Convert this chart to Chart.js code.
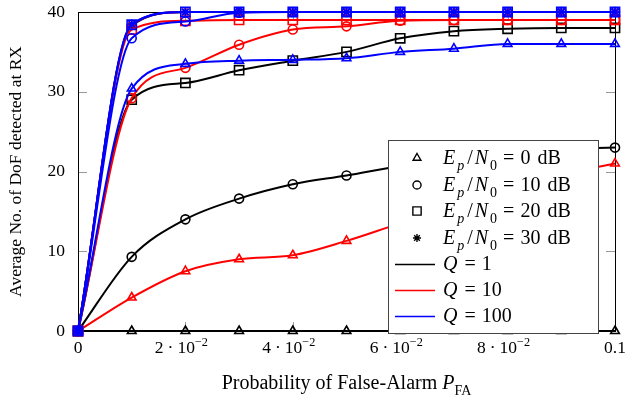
<!DOCTYPE html>
<html>
<head>
<meta charset="utf-8">
<script src="https://cdn.jsdelivr.net/npm/chart.js@4.4.1/dist/chart.umd.min.js"></script>
<style>
  html, body { margin: 0; padding: 0; background: #fff; }
  #wrap { width: 628px; height: 397px; }
</style>
</head>
<body>
<div id="wrap"><canvas id="myChart" width="628" height="397"></canvas></div>
<script>
const PFA = [0, 0.01, 0.02, 0.03, 0.04, 0.05, 0.06, 0.07, 0.08, 0.09, 0.1];

// Q = 1
const Q1_0DB  = [0, 0, 0, 0, 0, 0, 0, 0, 0, 0, 0];
const Q1_10DB = [0, 9.3, 14.0, 16.6, 18.4, 19.5, 20.7, 21.6, 22.3, 22.8, 23.0];
const Q1_20DB = [0, 29.0, 31.1, 32.7, 33.9, 35.0, 36.7, 37.6, 37.9, 38.0, 38.0];
const Q1_30DB = [0, 38.3, 40, 40, 40, 40, 40, 40, 40, 40, 40];
// Q = 10
const Q10_0DB  = [0, 4.2, 7.5, 9.0, 9.5, 11.3, 13.5, 15.5, 17.6, 19.6, 21.0];
const Q10_10DB = [0, 29.2, 33.0, 35.9, 37.8, 38.2, 38.9, 39, 39, 39, 39];
const Q10_20DB = [0, 37.8, 38.9, 39, 39, 39, 39, 39, 39, 39, 39];
const Q10_30DB = [0, 38.4, 40, 40, 40, 40, 40, 40, 40, 40, 40];
// Q = 100
const Q100_0DB  = [0, 30.4, 33.5, 33.9, 34.0, 34.2, 35.0, 35.4, 36.0, 36.0, 36.0];
const Q100_10DB = [0, 36.7, 38.8, 39.9, 40, 40, 40, 40, 40, 40, 40];
const Q100_20DB = [0, 38.4, 40, 40, 40, 40, 40, 40, 40, 40, 40];
const Q100_30DB = [0, 38.5, 40, 40, 40, 40, 40, 40, 40, 40, 40];

const X_TICKS = [0, 0.02, 0.04, 0.06, 0.08, 0.1];
const Y_TICKS = [0, 10, 20, 30, 40];

const SNR_LABELS = ['0', '10', '20', '30'];
const Q_LABELS = ['1', '10', '100'];

const COLORS = ['#000000', '#ff0000', '#0000ff'];
const MARKS = ['triangle', 'circle', 'rect', 'star'];
const MARK_RADIUS = { triangle: 5, circle: 4.5, rect: 6.5, star: 4.5 };

const SERIF = '"Liberation Serif", "DejaVu Serif", serif';

/** series: builds a chart.js dataset for one (Q, SNR) pair */
function series(values, qIdx, snrIdx) {
    const mark = MARKS[snrIdx];
    return {
        label: `Q=${Q_LABELS[qIdx]}, Ep/N0=${SNR_LABELS[snrIdx]} dB`,
        data: PFA.map((x, i) => ({ x: x, y: values[i] })),
        borderColor: COLORS[qIdx],
        backgroundColor: 'rgba(0,0,0,0)',
        borderWidth: 2,
        pointStyle: mark,
        pointRadius: MARK_RADIUS[mark],
        pointBorderWidth: 1.6,
        pointBorderColor: COLORS[qIdx],
        pointBackgroundColor: 'rgba(0,0,0,0)',
        cubicInterpolationMode: 'monotone',
        clip: false
    };
}

// first dataset is drawn on top, so Q = 100 goes first
const datasets = [
    series(Q100_30DB, 2, 3), series(Q100_20DB, 2, 2), series(Q100_10DB, 2, 1), series(Q100_0DB, 2, 0),
    series(Q10_30DB, 1, 3), series(Q10_20DB, 1, 2), series(Q10_10DB, 1, 1), series(Q10_0DB, 1, 0),
    series(Q1_30DB, 0, 3), series(Q1_20DB, 0, 2), series(Q1_10DB, 0, 1), series(Q1_0DB, 0, 0)
];

/** drawRich: draws a list of text pieces, with italics and sub/superscripts */
function drawRich(ctx, parts, x, y, size, align) {
    const fontFor = p => `${p.it ? 'italic ' : ''}${p.sub || p.sup ? size * 0.7 : size}px ${SERIF}`;
    let total = 0;
    for (const p of parts) { ctx.font = fontFor(p); total += ctx.measureText(p.t).width + (p.gap || 0); }
    let cx = align === 'center' ? x - total / 2 : x;
    ctx.textAlign = 'left';
    ctx.textBaseline = 'alphabetic';
    for (const p of parts) {
        ctx.font = fontFor(p);
        let dy = p.sub ? size * 0.28 : (p.sup ? -size * 0.42 : 0);
        ctx.fillText(p.t, cx, y + dy);
        cx += ctx.measureText(p.t).width + (p.gap || 0);
    }
}

const framePlugin = {
    id: 'frame',
    beforeDatasetsDraw(chart) {
        const { ctx, chartArea: a, scales } = chart;
        ctx.save();
        // inward tick marks
        ctx.strokeStyle = '#999';
        ctx.lineWidth = 1;
        ctx.beginPath();
        for (const v of Y_TICKS) {
            const py = Math.round(scales.y.getPixelForValue(v)) + 0.5;
            ctx.moveTo(a.left, py); ctx.lineTo(a.left + 9, py);
            ctx.moveTo(a.right, py); ctx.lineTo(a.right - 9, py);
        }
        for (const v of X_TICKS) {
            const px = Math.round(scales.x.getPixelForValue(v)) + 0.5;
            ctx.moveTo(px, a.bottom); ctx.lineTo(px, a.bottom - 9);
            ctx.moveTo(px, a.top); ctx.lineTo(px, a.top + 9);
        }
        ctx.stroke();
        ctx.strokeStyle = '#000';
        ctx.strokeRect(Math.round(a.left) + 0.5, Math.round(a.top) + 0.5,
            Math.round(a.right - a.left), Math.round(a.bottom - a.top));
        ctx.restore();
    },
    afterDraw(chart) {
        const { ctx, chartArea: a, scales } = chart;
        ctx.save();
        ctx.fillStyle = '#000';
        // x tick labels with powers of ten
        for (const v of X_TICKS) {
            const px = scales.x.getPixelForValue(v);
            let parts;
            if (v === 0) parts = [{ t: '0' }];
            else if (Math.abs(v - 0.1) < 1e-9) parts = [{ t: '0.1' }];
            else parts = [{ t: `${Math.round(v * 100)}`, gap: 4 }, { t: '·', gap: 4 }, { t: '10' }, { t: '−2', sup: true }];
            drawRich(ctx, parts, px - (parts.length > 1 ? 4 : 0), a.bottom + 22, 17.5, 'center');
        }
        // axis titles
        drawRich(ctx, [{ t: 'Probability of False-Alarm ' }, { t: 'P', it: true }, { t: 'FA', sub: true }],
            (a.left + a.right) / 2, 389, 20, 'center');
        ctx.save();
        ctx.translate(21, (a.top + a.bottom) / 2);
        ctx.rotate(-Math.PI / 2);
        drawRich(ctx, [{ t: 'Average No. of DoF detected at RX' }], 0, 0, 17.5, 'center');
        ctx.restore();

        // legend box
        const lx = 388, ly = 140, lw = 210, lh = 193;
        ctx.fillStyle = '#fff';
        ctx.fillRect(lx, ly, lw, lh);
        ctx.strokeStyle = '#444';
        ctx.lineWidth = 1;
        ctx.strokeRect(lx + 0.5, ly + 0.5, lw, lh);
        const rowY = [158, 185, 211, 238, 264, 290, 316];
        const eq = [{ t: '', gap: 6 }, { t: '=' }, { t: '', gap: 6 }];
        SNR_LABELS.forEach((s, i) => {
            const mark = MARKS[i];
            ctx.strokeStyle = '#000';
            ctx.fillStyle = 'rgba(0,0,0,0)';
            ctx.lineWidth = 1.4;
            Chart.helpers.drawPoint(ctx, {
                pointStyle: mark, radius: MARK_RADIUS[mark] * 0.9, rotation: 0, borderWidth: 1.4
            }, 417, rowY[i]);
            ctx.fillStyle = '#000';
            drawRich(ctx, [{ t: 'E', it: true, gap: 2 }, { t: 'p', it: true, sub: true, gap: 3 }, { t: '/', gap: 2 },
                { t: 'N', it: true, gap: 2 }, { t: '0', sub: true }].concat(eq, [{ t: s, gap: 7 }, { t: 'dB' }]),
                443, rowY[i] + 6, 20, 'left');
        });
        Q_LABELS.forEach((q, i) => {
            const y = rowY[4 + i];
            ctx.strokeStyle = COLORS[i];
            ctx.lineWidth = 1.5;
            ctx.beginPath();
            ctx.moveTo(395, y + 0.5); ctx.lineTo(435, y + 0.5);
            ctx.stroke();
            ctx.fillStyle = '#000';
            drawRich(ctx, [{ t: 'Q', it: true, gap: 1 }].concat(eq, [{ t: q }]), 443, y + 6, 20, 'left');
        });
        ctx.restore();
    }
};

const myChart = new Chart(document.getElementById('myChart'), {
    type: 'line',
    data: { datasets: datasets },
    options: {
        responsive: false,
        animation: false,
        devicePixelRatio: 1,
        layout: { padding: { top: 12, right: 13, left: 0, bottom: 0 } },
        scales: {
            x: {
                type: 'linear',
                min: 0,
                max: 0.1,
                afterBuildTicks: scale => { scale.ticks = X_TICKS.map(v => ({ value: v })); },
                ticks: { display: false },
                grid: { display: false },
                border: { display: false },
                afterFit: scale => { scale.height = 66; scale.paddingLeft = 0; scale.paddingRight = 0; }
            },
            y: {
                min: 0,
                max: 40,
                afterBuildTicks: scale => { scale.ticks = Y_TICKS.map(v => ({ value: v })); },
                ticks: {
                    color: '#000',
                    padding: 5,
                    font: { family: SERIF, size: 17.5 }
                },
                grid: { display: false },
                border: { display: false },
                afterFit: scale => { scale.width = 78; scale.paddingTop = 0; scale.paddingBottom = 0; }
            }
        },
        plugins: {
            legend: { display: false },
            tooltip: { enabled: false }
        }
    },
    plugins: [framePlugin]
});
</script>
</body>
</html>
